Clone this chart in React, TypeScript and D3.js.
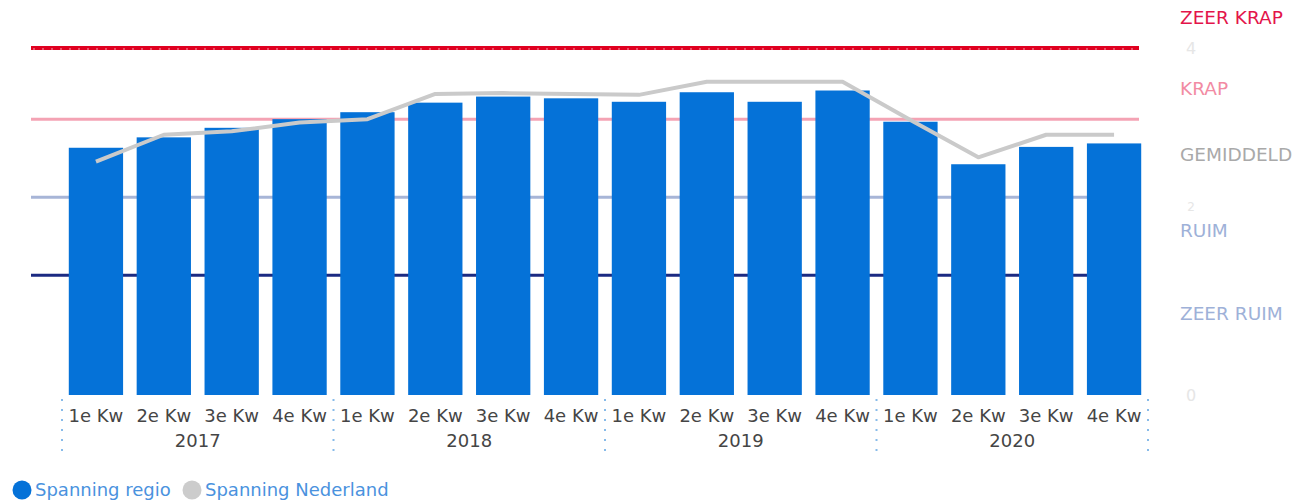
import React from "react";
import * as d3 from "d3";

const quarters = ["1e Kw", "2e Kw", "3e Kw", "4e Kw"];
const years = ["2017", "2018", "2019", "2020"];
const categories = years.flatMap((y) => quarters.map((q) => `${y}-${q}`));
const regioValues = [2.85, 2.97, 3.08, 3.18, 3.26, 3.37, 3.44, 3.42, 3.38, 3.49, 3.38, 3.51, 3.15, 2.66, 2.86, 2.9];
const nederlandValues = [2.69, 3.0, 3.04, 3.14, 3.18, 3.47, 3.48, 3.47, 3.46, 3.61, 3.61, 3.61, 3.17, 2.74, 3.0, 3.0];
const yTicks = [0, 2, 4];
const bandNames = ["ZEER KRAP", "KRAP", "GEMIDDELD", "RUIM", "ZEER RUIM"];
const bandLabelValues = [4.33, 3.52, 2.75, 1.88, 0.92];
const bandColors = ["#e3144a", "#f28ba3", "#a9a9a9", "#9eb1d8", "#9eb1d8"];
const refValues = [4, 3.18, 2.28, 1.38];
const refColors = ["#e00020", "#f4a3b4", "#a7b5d7", "#1b2a82"];
const legendNames = ["Spanning regio", "Spanning Nederland"];

const W = 1297;
const H = 502;
const FONT = "Verdana, 'DejaVu Sans', sans-serif";

export default function App() {
  const x = d3.scaleBand<string>().domain(categories).range([62, 1148]).paddingInner(0.2).paddingOuter(0.1);
  const y = d3.scaleLinear().domain([0, 4]).range([395, 48]);
  const groupW = (1148 - 62) / years.length;
  const line = d3
    .line<number>()
    .x((_, i) => (x(categories[i]) as number) + x.bandwidth() / 2)
    .y((d) => y(d));

  return (
    <svg width={W} height={H} style={{ position: "absolute", left: 0, top: 0, background: "#fff" }} fontFamily={FONT}>
      {/* y tick labels (faint) */}
      {yTicks.map((t) => (
        <text key={t} x={1191} y={t === 2 ? y(t) - 11 : y(t) + 6} fontSize={t === 2 ? 12 : 16} fill="#e6e6e6" textAnchor="middle">
          {t}
        </text>
      ))}
      {/* reference lines */}
      {refValues.map((v, i) => (
        <line key={i} x1={31} x2={1139} y1={y(v)} y2={y(v)} stroke={refColors[i]} strokeWidth={i === 0 ? 4 : 3} />
      ))}
      <line x1={33} x2={1139} y1={y(refValues[0]) + 1} y2={y(refValues[0]) + 1} stroke="#f7a0b0" strokeWidth={1} strokeDasharray="2,7" />
      {/* bars */}
      {regioValues.map((v, i) => (
        <rect key={i} x={x(categories[i])} y={y(v)} width={x.bandwidth()} height={y(0) - y(v)} fill="#0572d8" />
      ))}
      {/* national line */}
      <path d={line(nederlandValues) || ""} fill="none" stroke="#cacaca" strokeWidth={4} strokeLinejoin="round" />
      {/* band labels */}
      {bandNames.map((n, i) => (
        <text key={n} x={1180} y={y(bandLabelValues[i])} fontSize={18.5} fill={bandColors[i]} dominantBaseline="middle">
          {n}
        </text>
      ))}
      {/* x axis separators */}
      {d3.range(years.length + 1).map((k) => (
        <line key={k} x1={62 + k * groupW} x2={62 + k * groupW} y1={399} y2={454} stroke="#88bbe9" strokeWidth={2} strokeDasharray="2,8" />
      ))}
      {/* quarter labels */}
      {categories.map((c, i) => (
        <text key={c} x={(x(c) as number) + x.bandwidth() / 2} y={422} fontSize={18} fill="#454545" textAnchor="middle">
          {quarters[i % 4]}
        </text>
      ))}
      {/* year labels */}
      {years.map((yr, k) => (
        <text key={yr} x={62 + (k + 0.5) * groupW} y={447} fontSize={18} fill="#454545" textAnchor="middle">
          {yr}
        </text>
      ))}
      {/* legend */}
      <circle cx={22} cy={490} r={9.5} fill="#0572d8" />
      <text x={35} y={496} fontSize={18} fill="#4a92de">
        {legendNames[0]}
      </text>
      <circle cx={192} cy={490} r={9.5} fill="#cccccc" />
      <text x={205} y={496} fontSize={18} fill="#4a92de">
        {legendNames[1]}
      </text>
    </svg>
  );
}
